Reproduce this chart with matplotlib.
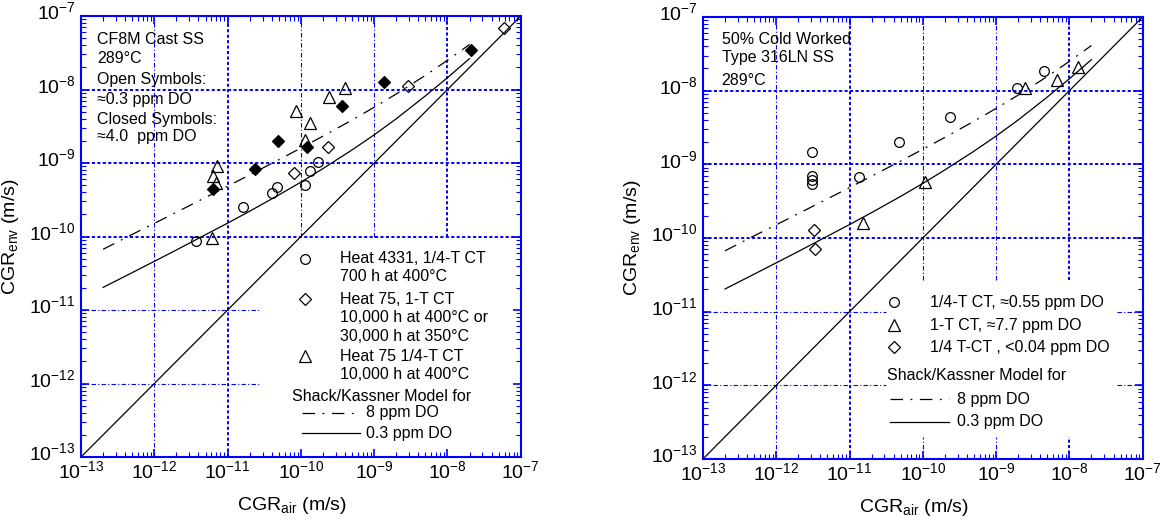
import numpy as np
import matplotlib
matplotlib.use("Agg")
import matplotlib.pyplot as plt
from matplotlib.ticker import FixedLocator, LogFormatterSciNotation, NullFormatter
from matplotlib.transforms import ScaledTranslation

plt.rcParams["font.family"] = ["Liberation Sans", "DejaVu Sans"]
plt.rcParams["mathtext.fontset"] = "custom"
plt.rcParams["mathtext.rm"] = "Liberation Sans"
plt.rcParams["mathtext.default"] = "regular"

BLUE = "#0000ff"

# Shack/Kassner model curves (same in both panels)
model_x = [2e-13, 5e-13, 1e-12, 2e-12, 5e-12, 1e-11, 2e-11, 5e-11, 1e-10,
           2e-10, 5e-10, 1e-9, 2e-9, 5e-9, 1e-8, 2e-8]
model_8ppm = [6.7e-11, 1.07e-10, 1.51e-10, 2.14e-10, 3.4e-10, 4.84e-10, 6.9e-10,
              1.11e-9, 1.6e-9, 2.32e-9, 3.85e-9, 5.74e-9, 8.7e-9, 1.56e-8,
              2.5e-8, 4.1e-8]
model_03ppm = [2.03e-11, 3.23e-11, 4.6e-11, 6.56e-11, 1.06e-10, 1.52e-10, 2.21e-10,
               3.68e-10, 5.5e-10, 8.4e-10, 1.51e-9, 2.42e-9, 4.0e-9, 8.2e-9,
               1.45e-8, 2.64e-8]
unity = [1e-13, 1e-7]

# left panel: CF8M cast SS
cf_heat4331_x = [3.7e-12, 1.64e-11, 4.0e-11, 4.7e-11, 1.14e-10, 1.33e-10, 1.69e-10]
cf_heat4331_y = [8.8e-11, 2.55e-10, 3.9e-10, 4.7e-10, 5.1e-10, 7.9e-10, 1.04e-9]
cf_heat75_1t_x = [8.0e-11, 2.37e-10, 2.9e-9, 5.9e-8]
cf_heat75_1t_y = [7.4e-10, 1.64e-9, 1.13e-8, 6.8e-8]
cf_heat75_1t_hi_x = [6.3e-12, 2.4e-11, 4.8e-11, 1.22e-10, 3.6e-10, 1.37e-9, 2.07e-8]
cf_heat75_1t_hi_y = [4.4e-10, 8.2e-10, 2.0e-9, 1.67e-9, 5.9e-9, 1.25e-8, 3.5e-8]
cf_heat75_qt_x = [7.1e-12, 6.4e-12, 6.9e-12, 6.1e-12, 8.6e-11, 1.32e-10, 1.13e-10,
                  2.44e-10, 4.0e-10]
cf_heat75_qt_y = [9.2e-10, 6.7e-10, 5.4e-10, 9.7e-11, 5.1e-9, 3.5e-9, 2.06e-9,
                  8.0e-9, 1.06e-8]

# right panel: 50% cold worked 316LN SS
cw_qt_x = [3.1e-12, 3.1e-12, 3.1e-12, 3.1e-12, 1.33e-11, 4.7e-11, 2.34e-10, 1.9e-9, 4.5e-9]
cw_qt_y = [1.46e-9, 7.0e-10, 6.1e-10, 5.4e-10, 6.8e-10, 2.0e-9, 4.4e-9, 1.08e-8, 1.85e-8]
cw_1t_x = [1.51e-11, 1.08e-10, 2.47e-9, 6.7e-9, 1.32e-8]
cw_1t_y = [1.62e-10, 5.8e-10, 1.08e-8, 1.4e-8, 2.12e-8]
cw_lowdo_x = [3.3e-12, 3.4e-12]
cw_lowdo_y = [1.29e-10, 7.1e-11]

decades = np.arange(-13, -6)
MAJOR = 10.0 ** decades
MINOR = [m * 10.0 ** e for e in decades[:-1] for m in range(2, 10)]

DASHDOT = (0, (10, 6, 1.5, 6))
GRID_THIN = dict(color=BLUE, lw=0.8, ls=(0, (4, 2, 1, 2)), zorder=1)
GRID_THICK = dict(color=BLUE, lw=1.4, ls=(0, (1.6, 1.2)), zorder=1)


def setup_axes(ax, hgrid, vgrid):
    ax.set_xscale("log")
    ax.set_yscale("log")
    ax.set_xlim(1e-13, 1e-7)
    ax.set_ylim(1e-13, 1e-7)
    for s in ax.spines.values():
        s.set_color(BLUE)
        s.set_linewidth(1.5)
    for axis in (ax.xaxis, ax.yaxis):
        axis.set_major_locator(FixedLocator(MAJOR))
        axis.set_major_formatter(LogFormatterSciNotation())
        axis.set_minor_locator(FixedLocator(MINOR))
        axis.set_minor_formatter(NullFormatter())
    ax.tick_params(which="both", direction="in", top=True, right=True, color=BLUE)
    ax.tick_params(which="major", length=6, width=1.2, labelsize=14)
    ax.tick_params(which="minor", length=3.5, width=0.8)
    ax.tick_params(axis="x", pad=2)
    ax.tick_params(axis="y", pad=4)
    # partial grid lines (exponent, from, to, thick)
    for e, a, b, thick in hgrid:
        ax.plot([10.0**a, 10.0**b], [10.0**e] * 2, **(GRID_THICK if thick else GRID_THIN))
    for e, a, b, thick in vgrid:
        ax.plot([10.0**e] * 2, [10.0**a, 10.0**b], **(GRID_THICK if thick else GRID_THIN))
    ax.plot(unity, unity, color="black", lw=0.9, zorder=2)
    ax.plot(model_x, model_8ppm, color="black", lw=0.9, ls=DASHDOT, zorder=2)
    ax.plot(model_x, model_03ppm, color="black", lw=0.9, zorder=2)
    ax.set_xlabel("CGR$_{air}$ (m/s)", fontsize=14)
    ax.set_ylabel("CGR$_{env}$ (m/s)", fontsize=14)
    ax.xaxis.set_label_coords(0.48, -0.085)
    ax.yaxis.set_label_coords(-0.137, 0.5)


def legend_marker(ax, x, y, marker, ms, filled=False):
    ax.plot([x], [y], marker=marker, ms=ms, mec="black", mew=0.9,
            mfc="black" if filled else "none", ls="none",
            transform=ax.transAxes, clip_on=False)


def legend_line(ax, x0, x1, y, ls):
    ax.plot([x0, x1], [y, y], color="black", lw=0.9, ls=ls, transform=ax.transAxes)


fig = plt.figure(figsize=(11.64, 5.21), dpi=100)
ax1 = fig.add_axes([0.0696, 0.1228, 0.3778, 0.8464])
ax2 = fig.add_axes([0.6039, 0.119, 0.3778, 0.8484])

# ---------------- left panel ----------------
setup_axes(ax1,
           hgrid=[(-8, -13, -7, True), (-9, -13, -7, True), (-10, -13, -7, True),
                  (-11, -13, -10.55, False), (-12, -13, -10.55, False)],
           vgrid=[(-12, -13, -7, False), (-11, -13, -7, True), (-10, -10, -7, False),
                  (-9, -10, -7, False), (-8, -10, -7, True)])
mk = dict(ls="none", mec="black", mew=0.9, zorder=3)
ax1.plot(cf_heat4331_x, cf_heat4331_y, marker="o", ms=7, mfc="none", **mk)
ax1.plot(cf_heat75_1t_x, cf_heat75_1t_y, marker="D", ms=6, mfc="none", **mk)
ax1.plot(cf_heat75_qt_x, cf_heat75_qt_y, marker="^", ms=8, mfc="none", **mk)
ax1.plot(cf_heat75_1t_hi_x, cf_heat75_1t_hi_y, marker="D", ms=6, mfc="black", **mk)

note = ["CF8M Cast SS", "289°C", "Open Symbols:", "≈0.3 ppm DO",
        "Closed Symbols:", "≈4.0  ppm DO"]
for s, fy in zip(note, [0.947, 0.904, 0.855, 0.810, 0.766, 0.726]):
    ax1.text(0.036, fy, s, transform=ax1.transAxes, fontsize=11.5, va="center")

legend_marker(ax1, 0.509, 0.448, "o", 7)
legend_marker(ax1, 0.509, 0.358, "D", 6)
legend_marker(ax1, 0.509, 0.229, "^", 8)
left_rows = [("Heat 4331, 1/4-T CT", 0.451), ("700 h at 400°C", 0.409),
             ("Heat 75, 1-T CT", 0.358), ("10,000 h at 400°C or", 0.317),
             ("30,000 h at 350°C", 0.274), ("Heat 75 1/4-T CT", 0.229),
             ("10,000 h at 400°C", 0.186)]
for s, fy in left_rows:
    ax1.text(0.589, fy, s, transform=ax1.transAxes, fontsize=11.5, va="center")
ax1.text(0.480, 0.138, "Shack/Kassner Model for", transform=ax1.transAxes,
         fontsize=11.5, va="center")
legend_line(ax1, 0.502, 0.634, 0.100, DASHDOT)
legend_line(ax1, 0.502, 0.634, 0.054, "-")
ax1.text(0.649, 0.100, "8 ppm DO", transform=ax1.transAxes, fontsize=11.5, va="center")
ax1.text(0.649, 0.054, "0.3 ppm DO", transform=ax1.transAxes, fontsize=11.5, va="center")

# ---------------- right panel ----------------
setup_axes(ax2,
           hgrid=[(-8, -13, -7, True), (-9, -13, -7, True), (-10, -13, -7, True),
                  (-11, -13, -10.5, False), (-12, -13, -10.5, False),
                  (-11, -7.35, -7, False), (-12, -7.35, -7, False)],
           vgrid=[(-12, -13, -7, False), (-11, -13, -7, True),
                  (-10, -10.57, -7, False), (-9, -10.57, -7, False), (-8, -10.57, -7, True),
                  (-10, -13, -12.7, False), (-9, -13, -12.7, False), (-8, -13, -12.7, True)])
ax2.plot(cw_qt_x, cw_qt_y, marker="o", ms=7, mfc="none", **mk)
ax2.plot(cw_1t_x, cw_1t_y, marker="^", ms=8, mfc="none", **mk)
ax2.plot(cw_lowdo_x, cw_lowdo_y, marker="D", ms=6, mfc="none", **mk)

for s, fy in zip(["50% Cold Worked", "Type 316LN SS", "289°C"], [0.948, 0.908, 0.857]):
    ax2.text(0.0425, fy, s, transform=ax2.transAxes, fontsize=11.5, va="center")

legend_marker(ax2, 0.435, 0.3545, "o", 7)
legend_marker(ax2, 0.435, 0.303, "^", 8)
legend_marker(ax2, 0.435, 0.2527, "D", 6)
right_rows = [("1/4-T CT, ≈0.55 ppm DO", 0.3545), ("1-T CT, ≈7.7 ppm DO", 0.303),
              ("1/4 T-CT , <0.04 ppm DO", 0.2527)]
for s, fy in right_rows:
    ax2.text(0.516, fy, s, transform=ax2.transAxes, fontsize=11.5, va="center")
ax2.text(0.419, 0.190, "Shack/Kassner Model for", transform=ax2.transAxes,
         fontsize=11.5, va="center")
legend_line(ax2, 0.425, 0.560, 0.135, DASHDOT)
legend_line(ax2, 0.425, 0.560, 0.0844, "-")
ax2.text(0.5766, 0.135, "8 ppm DO", transform=ax2.transAxes, fontsize=11.5, va="center")
ax2.text(0.5766, 0.0844, "0.3 ppm DO", transform=ax2.transAxes, fontsize=11.5, va="center")

# y tick labels sit a little above their ticks in the original
fig.canvas.draw()
lift = ScaledTranslation(0, 4 / 72, fig.dpi_scale_trans)
for ax in (ax1, ax2):
    for tick in ax.yaxis.get_major_ticks():
        tick.label1.set_transform(tick.label1.get_transform() + lift)

fig.savefig("out.png", dpi=100)
